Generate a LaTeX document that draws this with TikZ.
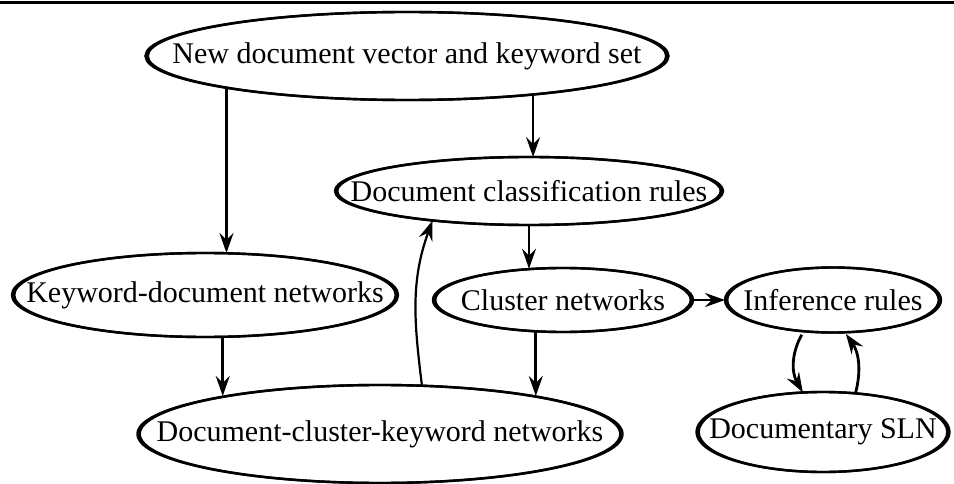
\documentclass[tikz,border=0pt]{standalone}
\usepackage{fontspec}
\setmainfont{Liberation Serif}
\usepackage{tikz}
\usetikzlibrary{arrows.meta, shapes.geometric, calc}

% text sits in a zero-width box so the oval keeps the size we give it
\newcommand{\ovaltext}[1]{\makebox[0pt]{#1}}

\begin{document}
\begin{tikzpicture}[
  x=1pt, y=-1pt,
  font=\rmfamily\fontsize{30}{36}\selectfont,
  oval/.style={ellipse, draw, line width=2.4pt, inner sep=0pt, outer sep=0pt},
  arrow/.style={-{Stealth[length=20pt, width=14pt, inset=7pt]}, line width=2.2pt},
  thickArrow/.style={arrow, line width=2.8pt},
]
\useasboundingbox (0,0) rectangle (954,484);

% rule along the top
\draw[line width=3.5pt] (0,2.5) -- (954,2.5);

% ------------------- Ovals -------------------
\node[oval, minimum width=523pt, minimum height=88pt] (top) at (407,56)
  {\ovaltext{New document vector and keyword set}};
\node[oval, minimum width=388pt, minimum height=68pt] (dcr) at (529,191)
  {\ovaltext{Document classification rules}};
\node[oval, minimum width=386pt, minimum height=84pt] (kw) at (205,295)
  {\ovaltext{Keyword-document networks}};
\node[oval, minimum width=260pt, minimum height=64pt] (cl) at (563,300)
  {\ovaltext{Cluster networks}};
\node[oval, minimum width=216pt, minimum height=65pt] (inf) at (833,300)
  {\ovaltext{Inference rules}};
\node[oval, minimum width=485pt, minimum height=98pt] (dck) at (380,434)
  {\ovaltext{Document-cluster-keyword networks}};
\node[oval, minimum width=253pt, minimum height=80pt] (doc) at (823,432)
  {\ovaltext{Documentary SLN}};

% heavier pen on the left and right of each oval
\foreach \nd in {top,dcr,kw,cl,inf,dck,doc}
  \draw[line width=2.4pt] let \p1=($(\nd.east)-(\nd.center)$), \p2=($(\nd.north)-(\nd.center)$)
    in (\nd.center) ellipse [x radius=\x1-2.2pt, y radius=\y2];

% ------------------- Arrows -------------------
\draw[arrow] (top.-170.5) -- (top.-170.5 |- kw.north);
\draw[arrow] (top.-17.9) -- (top.-17.9 |- dcr.north);
\draw[arrow] (dcr.south) -- (dcr.south |- cl.131.3);
\draw[thickArrow] (kw.-67.9) -- (kw.-67.9 |- dck.166.8);
\draw[thickArrow] (cl.-131.3) -- (cl.-131.3 |- dck.14.7);
\draw[thickArrow] (cl) -- (inf);
\draw[arrow] (dck.49) to[out=97, in=-110] (dcr.-163);

% loop between the inference rules and the SLN
\draw[thickArrow, shorten <=4pt] (inf.-133) to[out=-120, in=120] (doc.117);
\draw[thickArrow, shorten >=2pt] (doc.50) to[out=75, in=-55] (inf.-70);

\end{tikzpicture}
\end{document}
